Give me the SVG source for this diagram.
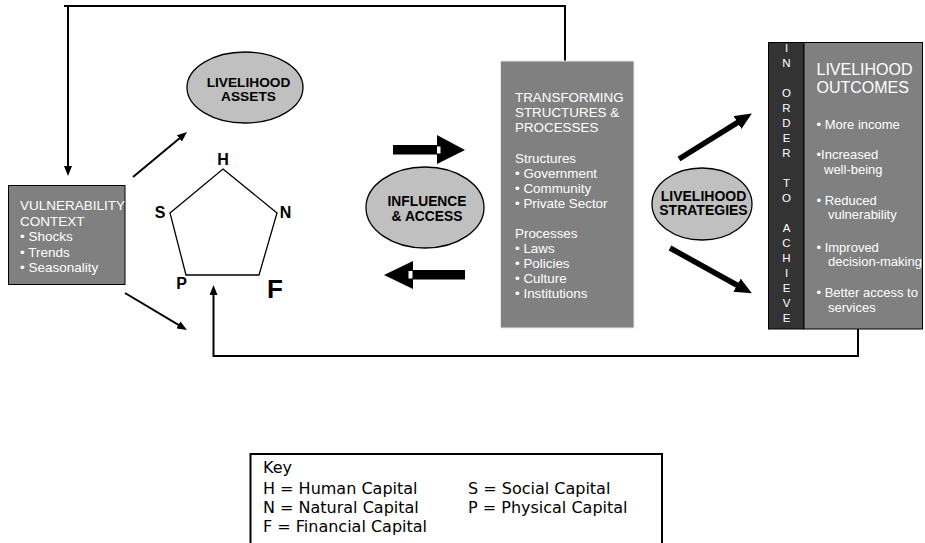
<svg xmlns="http://www.w3.org/2000/svg" width="925" height="543" viewBox="0 0 925 543">
<defs>
<style>
.box{fill:#808080;stroke:#000;stroke-width:1}
.ell{fill:#c0c0c0;stroke:#000;stroke-width:1.3}
.wt{font-family:"Liberation Sans",Arial,sans-serif;fill:#fff}
.bt{font-family:"Liberation Sans",Arial,sans-serif;font-weight:bold;fill:#000;text-anchor:middle}
.thin{fill:none;stroke:#000;stroke-width:2}
.thick{fill:none;stroke:#000;stroke-width:5.5}
.key{font-family:"DejaVu Sans",Verdana,sans-serif;font-size:16px;fill:#000}
.vl{font-family:"Liberation Sans",Arial,sans-serif;font-size:11.5px;fill:#fff;text-anchor:middle}
</style>
<marker id="ah" viewBox="0 0 10 8" refX="5" refY="4" markerWidth="10" markerHeight="8" markerUnits="userSpaceOnUse" orient="auto">
<path d="M0,0 L10,4 L0,8 z" fill="#000"/>
</marker>
<marker id="ahb" viewBox="0 0 17 15" refX="8" refY="7.5" markerWidth="17" markerHeight="15" markerUnits="userSpaceOnUse" orient="auto">
<path d="M0,0 L17,7.5 L0,15 z" fill="#000"/>
</marker>
</defs>

<g id="connectors">
<path class="thin" d="M565,61 V6 H64"/>
<path class="thin" d="M68,6 V171" marker-end="url(#ah)"/>
<path class="thin" d="M858,329 V356 H213.5 V290" marker-end="url(#ah)"/>
<path class="thin" d="M133,177 L183.2,135.2" marker-end="url(#ah)"/>
<path class="thin" d="M125,293 L182.7,327.4" marker-end="url(#ah)"/>
<path class="thick" d="M679,159 L744.2,118.3" marker-end="url(#ahb)"/>
<path class="thick" d="M670,248 L744,289" marker-end="url(#ahb)"/>
<g id="block-right">
<polygon points="393,145 437,145 437,135 465,150 437,164 437,154.5 393,154.5" fill="#000"/>
<rect x="437" y="146.5" width="3.5" height="7" fill="#fff"/>
</g>
<g id="block-left">
<polygon points="384,275 413,261 413,270 465,270 465,279.5 413,279.5 413,289" fill="#000"/>
<rect x="408.5" y="271" width="4" height="7.5" fill="#fff"/>
</g>
</g>

<g id="vulnerability">
<rect class="box" x="8.5" y="185.5" width="116.5" height="99"/>
<g class="wt" font-size="13.5">
<text x="20" y="210">VULNERABILITY</text>
<text x="20" y="225.5">CONTEXT</text>
<text x="20" y="241">• Shocks</text>
<text x="20" y="256.5">• Trends</text>
<text x="20" y="272">• Seasonality</text>
</g>
</g>

<g id="assets">
<ellipse class="ell" cx="245" cy="87.5" rx="58" ry="35.5"/>
<text class="bt" font-size="13.7" x="248.5" y="87">LIVELIHOOD</text>
<text class="bt" font-size="13.7" x="248.5" y="101">ASSETS</text>
</g>

<g id="pentagon">
<polygon points="223,169 277,213 259,275 186,275 170,213" fill="none" stroke="#000" stroke-width="1.3"/>
<text class="bt" font-size="16" x="223" y="165">H</text>
<text class="bt" font-size="16" x="160" y="218">S</text>
<text class="bt" font-size="16" x="285.5" y="218">N</text>
<text class="bt" font-size="16" x="181.5" y="289">P</text>
<text class="bt" font-size="26" x="275" y="298">F</text>
</g>

<g id="influence">
<ellipse class="ell" cx="425" cy="207.5" rx="59" ry="40.5"/>
<text class="bt" font-size="13.8" x="427" y="206">INFLUENCE</text>
<text class="bt" font-size="13.8" x="427" y="221">&amp; ACCESS</text>
</g>

<g id="transforming">
<rect x="500.5" y="61" width="133.5" height="267" fill="#808080" stroke="#e8e8e8" stroke-width="1"/>
<g class="wt" font-size="13.4">
<text x="515" y="102">TRANSFORMING</text>
<text x="515" y="117">STRUCTURES &amp;</text>
<text x="515" y="132">PROCESSES</text>
<text x="515" y="163">Structures</text>
<text x="515" y="178">• Government</text>
<text x="515" y="193">• Community</text>
<text x="515" y="208">• Private Sector</text>
<text x="515" y="238">Processes</text>
<text x="515" y="253">• Laws</text>
<text x="515" y="268">• Policies</text>
<text x="515" y="283">• Culture</text>
<text x="515" y="298">• Institutions</text>
</g>
</g>

<g id="strategies">
<ellipse class="ell" cx="702" cy="204" rx="50" ry="36"/>
<text class="bt" font-size="14" x="703.5" y="200.5">LIVELIHOOD</text>
<text class="bt" font-size="14" x="703.5" y="215">STRATEGIES</text>
</g>

<g id="in-order-to-achieve">
<rect x="768.5" y="42.5" width="35.5" height="286.5" fill="#333" stroke="#000" stroke-width="1"/>
<text class="vl" x="786.5" y="52">I</text>
<text class="vl" x="786.5" y="67">N</text>
<text class="vl" x="786.5" y="97">O</text>
<text class="vl" x="786.5" y="112">R</text>
<text class="vl" x="786.5" y="127">D</text>
<text class="vl" x="786.5" y="142">E</text>
<text class="vl" x="786.5" y="157">R</text>
<text class="vl" x="786.5" y="187">T</text>
<text class="vl" x="786.5" y="202">O</text>
<text class="vl" x="786.5" y="232">A</text>
<text class="vl" x="786.5" y="247">C</text>
<text class="vl" x="786.5" y="262">H</text>
<text class="vl" x="786.5" y="277">I</text>
<text class="vl" x="786.5" y="292">E</text>
<text class="vl" x="786.5" y="307">V</text>
<text class="vl" x="786.5" y="322">E</text>
</g>

<g id="outcomes">
<rect class="box" x="804" y="42.5" width="118.5" height="286.5"/>
<text class="wt" font-size="16" x="816.5" y="75">LIVELIHOOD</text>
<text class="wt" font-size="16" x="816.5" y="93">OUTCOMES</text>
<g class="wt" font-size="13">
<text x="816.5" y="129">• More income</text>
<text x="816.5" y="159">•Increased</text>
<text x="824" y="174">well-being</text>
<text x="816.5" y="205">• Reduced</text>
<text x="828" y="219">vulnerability</text>
<text x="816.5" y="252">• Improved</text>
<text x="828" y="266">decision-making</text>
<text x="816.5" y="297">• Better access to</text>
<text x="828" y="312">services</text>
</g>
</g>

<g id="key">
<rect x="250.5" y="454" width="411.5" height="110" fill="#fff" stroke="#000" stroke-width="2"/>
<text class="key" x="263" y="473">Key</text>
<text class="key" x="263" y="494">H = Human Capital</text>
<text class="key" x="263" y="513">N = Natural Capital</text>
<text class="key" x="263" y="532">F = Financial Capital</text>
<text class="key" x="468" y="494">S = Social Capital</text>
<text class="key" x="468" y="513">P = Physical Capital</text>
</g>
</svg>
